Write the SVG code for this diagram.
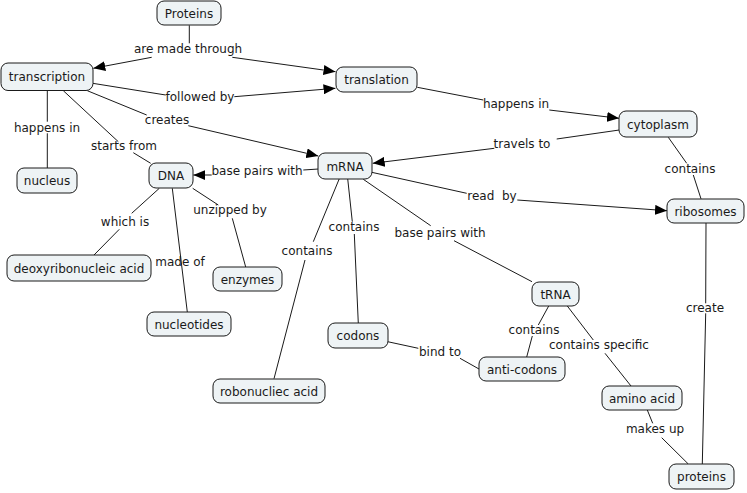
<svg xmlns="http://www.w3.org/2000/svg" width="747" height="493" viewBox="0 0 747 493">
<defs>
<marker id="arr" viewBox="0 0 12 10" refX="12" refY="5" markerWidth="12" markerHeight="10" markerUnits="userSpaceOnUse" orient="auto">
<path d="M0,0 L12,5 L0,10 Z" fill="#000"/>
</marker>
<style>
.n rect{fill:#eef3f5;stroke:#1a1a1a;stroke-width:1}
text{font-family:"DejaVu Sans",Verdana,sans-serif;font-size:12px;fill:#1a1a1a;text-anchor:middle}
.c line{stroke:#1a1a1a;stroke-width:1;fill:none}
.c line.a{marker-end:url(#arr)}
</style>
</defs>
<rect width="747" height="493" fill="#fff"/>
<g id="connectors" class="c">
<line x1="189.3" y1="25.3" x2="189.3" y2="43.3"/>
<line class="a" x1="151.7" y1="57.3" x2="93.3" y2="68.3"/>
<line class="a" x1="232.3" y1="57.3" x2="335.5" y2="71.7"/>
<line x1="92.7" y1="83.3" x2="165.7" y2="95"/>
<line class="a" x1="234.3" y1="96.7" x2="335.5" y2="88.3"/>
<line x1="87.3" y1="90.7" x2="146.7" y2="115"/>
<line class="a" x1="188.3" y1="125.7" x2="318.3" y2="156"/>
<line x1="47.3" y1="90.7" x2="47.3" y2="121.7"/>
<line x1="47.3" y1="133.3" x2="47.3" y2="168.3"/>
<line x1="63.3" y1="90.7" x2="118.3" y2="141.7"/>
<line x1="133.3" y1="152.7" x2="150.7" y2="163.3"/>
<line x1="318.5" y1="169" x2="303.3" y2="170"/>
<line class="a" x1="211.7" y1="175" x2="193.3" y2="175"/>
<line x1="417.3" y1="87.3" x2="483.3" y2="100"/>
<line class="a" x1="549.3" y1="110" x2="619" y2="118.3"/>
<line x1="619.3" y1="130" x2="556.7" y2="139"/>
<line class="a" x1="494.3" y1="148.3" x2="372.7" y2="163.3"/>
<line x1="668.3" y1="137.3" x2="686.7" y2="163.3"/>
<line x1="693.3" y1="175" x2="701" y2="198.8"/>
<line x1="371.7" y1="172.3" x2="466.7" y2="193.3"/>
<line class="a" x1="517.3" y1="200" x2="667" y2="210.7"/>
<line x1="347.7" y1="178.7" x2="352.3" y2="221.7"/>
<line x1="354.3" y1="234" x2="358.3" y2="323.3"/>
<line x1="363.3" y1="179.3" x2="430.7" y2="225.7"/>
<line x1="454" y1="240.7" x2="532" y2="281.7"/>
<line x1="339.3" y1="178.7" x2="313.3" y2="241.7"/>
<line x1="305" y1="260" x2="274" y2="378.7"/>
<line x1="159.3" y1="188.3" x2="131.7" y2="213.3"/>
<line x1="119.3" y1="229.3" x2="94" y2="255"/>
<line x1="172.3" y1="188.3" x2="187.3" y2="312"/>
<line x1="192.7" y1="188.3" x2="218.3" y2="205"/>
<line x1="232.3" y1="218.3" x2="245.7" y2="267"/>
<line x1="387.7" y1="341.7" x2="418.3" y2="348.3"/>
<line x1="460" y1="358.3" x2="479" y2="369"/>
<line x1="548.7" y1="306" x2="538.3" y2="325"/>
<line x1="532.3" y1="336" x2="526.7" y2="357"/>
<line x1="567.3" y1="306" x2="593.3" y2="340"/>
<line x1="605" y1="353.3" x2="631" y2="386"/>
<line x1="647.3" y1="410" x2="652.7" y2="423.3"/>
<line x1="661.7" y1="437.7" x2="688.3" y2="464"/>
<line x1="706" y1="223" x2="705.7" y2="303.3"/>
<line x1="705.7" y1="313.3" x2="702.3" y2="464"/>
</g>
<g id="link-labels">
<text x="188" y="53">are made through</text>
<text x="200" y="101">followed by</text>
<text x="167" y="124">creates</text>
<text x="47" y="132">happens in</text>
<text x="124" y="150">starts from</text>
<text x="257" y="175">base pairs with</text>
<text x="516" y="108">happens in</text>
<text x="522" y="148">travels to</text>
<text x="690" y="173">contains</text>
<text x="492" y="200" xml:space="preserve">read  by</text>
<text x="354" y="231">contains</text>
<text x="440" y="237">base pairs with</text>
<text x="125" y="226">which is</text>
<text x="230" y="214">unzipped by</text>
<text x="180" y="266">made of</text>
<text x="307" y="255">contains</text>
<text x="534" y="334">contains</text>
<text x="599" y="349">contains specific</text>
<text x="440" y="356">bind to</text>
<text x="655" y="433">makes up</text>
<text x="705" y="312">create</text>
</g>
<g id="n-proteins-top" class="n"><rect x="157" y="1" width="64" height="24" rx="7"/><text x="189" y="17.5">Proteins</text></g>
<g id="n-transcription" class="n"><rect x="1" y="63" width="92" height="27.5" rx="7"/><text x="47" y="81">transcription</text></g>
<g id="n-translation" class="n"><rect x="336" y="67" width="81" height="25" rx="7"/><text x="376.5" y="84">translation</text></g>
<g id="n-cytoplasm" class="n"><rect x="619" y="111" width="78" height="26" rx="7"/><text x="658" y="128.5">cytoplasm</text></g>
<g id="n-mrna" class="n"><rect x="318" y="153" width="54" height="26" rx="7"/><text x="345" y="170.5">mRNA</text></g>
<g id="n-ribosomes" class="n"><rect x="667" y="199" width="77" height="24" rx="7"/><text x="705.5" y="215.5">ribosomes</text></g>
<g id="n-dna" class="n"><rect x="149" y="163" width="44" height="25" rx="7"/><text x="171" y="180">DNA</text></g>
<g id="n-nucleus" class="n"><rect x="17" y="168" width="60" height="25" rx="7"/><text x="47" y="185">nucleus</text></g>
<g id="n-deoxy" class="n"><rect x="7" y="255" width="144" height="26" rx="7"/><text x="79" y="272.5">deoxyribonucleic acid</text></g>
<g id="n-enzymes" class="n"><rect x="213" y="267" width="69" height="24" rx="7"/><text x="247.5" y="283.5">enzymes</text></g>
<g id="n-nucleotides" class="n"><rect x="147" y="312" width="84" height="24" rx="7"/><text x="189" y="328.5">nucleotides</text></g>
<g id="n-robonucliec" class="n"><rect x="213" y="379" width="112" height="24" rx="7"/><text x="269" y="395.5">robonucliec acid</text></g>
<g id="n-codons" class="n"><rect x="328" y="323" width="60" height="25" rx="7"/><text x="358" y="340">codons</text></g>
<g id="n-trna" class="n"><rect x="532" y="282" width="47" height="24" rx="7"/><text x="555.5" y="298.5">tRNA</text></g>
<g id="n-anticodons" class="n"><rect x="479" y="357" width="86" height="24" rx="7"/><text x="522" y="373.5">anti-codons</text></g>
<g id="n-aminoacid" class="n"><rect x="602" y="386" width="80" height="24" rx="7"/><text x="642" y="402.5">amino acid</text></g>
<g id="n-proteins" class="n"><rect x="669" y="464" width="65" height="25" rx="7"/><text x="701.5" y="481">proteins</text></g>
</svg>
